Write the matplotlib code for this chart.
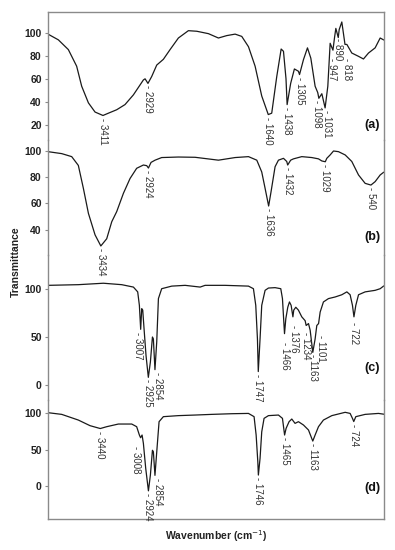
import numpy as np
import matplotlib
matplotlib.use("Agg")
import matplotlib.pyplot as plt

plt.rcParams['font.family'] = ['Liberation Sans', 'DejaVu Sans']

# ---------------- data (wavenumber cm-1, transmittance) ----------------
wn_a = [4000, 3889, 3782, 3693, 3639, 3567, 3496, 3411, 3353, 3264, 3175, 3085, 2978, 2960, 2929,
        2889, 2835, 2764, 2692, 2603, 2496, 2406, 2281, 2174, 2085, 1995, 1924, 1852, 1781, 1710,
        1640, 1603, 1549, 1502, 1477, 1450, 1438, 1400, 1360, 1317, 1305, 1263, 1220, 1184, 1138,
        1110, 1098, 1066, 1031, 1002, 977, 947, 930, 916, 890, 880, 852, 818, 798, 745, 673, 620,
        566, 495, 441, 405]
tr_a = [99, 94, 85.5, 71, 53.5, 39, 31, 28, 30, 33, 37.5, 46, 59, 60, 56,
        62, 72, 77, 85.5, 95.6, 102, 101.5, 99.4, 95.6, 97.7, 99, 97, 88, 71, 45,
        28.8, 30, 62, 86, 84, 60, 37.5, 56, 68.6, 66.6, 63.7, 76.7, 87, 78, 53.5,
        48, 43, 47, 34.6, 53.5, 91, 85, 96, 104, 96, 103, 109.6, 90, 90, 82.5, 79.6, 77.3,
        82.5, 87, 95.6, 94]

wn_b = [4000, 3853, 3746, 3675, 3621, 3567, 3496, 3434, 3371, 3317, 3264, 3192, 3121, 3050, 2978,
        2942, 2924, 2896, 2853, 2782, 2603, 2424, 2174, 1995, 1852, 1763, 1710, 1674, 1636, 1610,
        1567, 1531, 1477, 1442, 1432, 1400, 1370, 1281, 1174, 1102, 1066, 1029, 1013, 977, 941,
        888, 816, 745, 673, 602, 540, 495, 441, 405]
tr_b = [99.5, 98, 95.7, 89, 71.5, 52.4, 36, 27.5, 33, 46, 53.7, 67.7, 79, 86.8, 89.3,
        88.8, 87, 91.3, 93, 95, 95.4, 95.2, 93, 95, 95.7, 93, 84, 71.5, 58, 69,
        88, 93, 94.4, 92, 89.3, 93, 94, 95.7, 95, 94, 92.4, 91.8, 94.4, 97, 100,
        99.5, 97, 92, 81.7, 75.3, 74, 76.6, 81.7, 83.7]

wn_c = [4000, 3675, 3407, 3210, 3085, 3039, 3021, 3007, 2996, 2985, 2971, 2950, 2925, 2903, 2881,
        2871, 2854, 2835, 2817, 2782, 2674, 2531, 2370, 2317, 2103, 1852, 1799, 1774, 1756, 1747,
        1728, 1710, 1674, 1638, 1567, 1506, 1488, 1466, 1452, 1431, 1413, 1395, 1376, 1367, 1345,
        1317, 1281, 1245, 1234, 1209, 1191, 1163, 1138, 1120, 1101, 1084, 1049, 995, 923, 852, 798,
        763, 738, 722, 702, 673, 602, 495, 441, 405]
tr_c = [103.8, 104.5, 106, 104.5, 102, 97, 83, 58, 79.5, 78, 58.7, 31, 8, 24, 50,
        48, 16, 45, 90, 100.3, 103, 103.8, 102, 103.8, 103.8, 103, 100.3, 83, 48, 14,
        48, 83, 98.6, 101, 101.4, 100.3, 90, 53.5, 69, 81, 86.5, 83, 71, 78, 81,
        78, 71, 67, 62, 64, 57, 34, 48, 62, 64, 76, 86.5, 90, 91.7, 94, 97,
        94, 83, 71, 83, 94, 97, 98.6, 100.3, 103]

wn_d = [4000, 3853, 3675, 3550, 3440, 3371, 3246, 3103, 3050, 3021, 3008, 2992, 2978, 2953, 2924,
        2903, 2881, 2871, 2854, 2832, 2810, 2764, 2603, 2424, 2246, 2031, 1852, 1792, 1770, 1752,
        1746, 1728, 1710, 1685, 1638, 1531, 1488, 1465, 1449, 1417, 1388, 1353, 1317, 1263, 1209,
        1174, 1163, 1138, 1102, 1049, 959, 816, 763, 738, 724, 702, 602, 459, 405]
tr_d = [100, 97.7, 90, 82.4, 78.5, 81, 84.6, 84.6, 81, 69.7, 66, 69.7, 58.4, 24.4, -6,
        15.4, 49, 47, 15, 51.6, 87.8, 94.6, 96, 96.8, 97.7, 98.6, 99, 94.6, 69.7, 33.5,
        15.4, 38, 74, 92.3, 96, 96.8, 92.3, 69.7, 78.7, 87.8, 91.4, 85.5, 87.8, 83.3, 76.5,
        65, 61.5, 69.7, 81, 90, 96, 100.5, 99, 92.3, 88, 94.6, 97.7, 99, 98]

labels_a = [3411, 2929, 1640, 1438, 1305, 1098, 1031, 947, 890, 818]
labels_b = [3434, 2924, 1636, 1432, 1029, 540]
labels_c = [3007, 2925, 2854, 1747, 1466, 1376, 1234, 1163, 1101, 722]
labels_d = [3440, 3008, 2924, 2854, 1746, 1465, 1163, 724]

panel_names = ['(a)', '(b)', '(c)', '(d)']
yticks_list = [[20, 40, 60, 80, 100], [40, 60, 80, 100], [0, 50, 100], [0, 50, 100]]

# ---------------- layout ----------------
W, H = 395, 550
fig = plt.figure(figsize=(W / 100, H / 100), dpi=100)
left_px, right_px = 48, 384
bounds_px = [(12, 140), (140, 255), (255, 400), (400, 519)]
ylims = [(6.6, 118.3), (20.6, 108.4), (-15.6, 135.4), (-44.2, 117.2)]
panel_label_y = [125, 237, 368, 488]

series = [(wn_a, tr_a, labels_a), (wn_b, tr_b, labels_b),
          (wn_c, tr_c, labels_c), (wn_d, tr_d, labels_d)]

# label offsets in points (dx, dy) for a few labels
offsets = {
    (0, 818): (1.5, -10), (0, 947): (-1, -6), (0, 890): (0, 0),
    (0, 1098): (-1.5, -1.5), (0, 1031): (1.5, -1.5),
    (2, 3007): (-2, -2), (2, 2854): (2, -2), (2, 1466): (0, -6),
    (2, 1376): (1, -6), (2, 1234): (0, -5), (2, 1101): (1.5, -8), (2, 722): (0, -4),
    (3, 3008): (-3, -6), (3, 2854): (2, -2),
}

frame_col = '#8a8a8a'
for i, ((top, bot), (wn, tr, labs)) in enumerate(zip(bounds_px, series)):
    ax = fig.add_axes([left_px / W, 1 - bot / H, (right_px - left_px) / W, (bot - top) / H])
    ax.set_facecolor('none')
    ax.plot(wn, tr, color='#1a1a1a', lw=0.9)
    ax.set_xlim(4000, 400)
    ax.set_ylim(*ylims[i])
    ax.set_xticks([])
    ax.set_yticks(yticks_list[i])
    ax.tick_params(axis='y', direction='out', length=2.5, width=0.8, color=frame_col, pad=2,
                   labelsize=7.5)
    for t in ax.get_yticklabels():
        t.set_fontweight('bold')
        t.set_color('#222222')
    for s in ['left', 'right', 'top', 'bottom']:
        ax.spines[s].set_color(frame_col)
        ax.spines[s].set_linewidth(1.0)
    ax.spines['top'].set_visible(i == 0)
    ax.spines['bottom'].set_visible(i == 3)
    for lab in labs:
        yv = float(np.interp(lab, wn[::-1], tr[::-1]))
        dx, dy = offsets.get((i, lab), (0, -1.5))
        ax.annotate('- ' + str(lab), xy=(lab, yv), xytext=(dx, dy), textcoords='offset points',
                    rotation=270, ha='center', va='top', fontsize=7.0, color='#333333',
                    annotation_clip=False)
    ax.text(0.966, 1 - (panel_label_y[i] - top) / (bot - top),
            panel_names[i], transform=ax.transAxes, ha='center', va='center',
            fontsize=9, fontweight='bold', color='#111111')

fig.text(216 / W, 1 - 536 / H, 'Wavenumber (cm$^{-1}$)', ha='center', va='center',
         fontsize=7.5, fontweight='bold', color='#222222')
fig.text(16 / W, 1 - 262 / H, 'Transmittance', ha='center', va='center', rotation=90,
         fontsize=7.5, fontweight='bold', color='#222222')

fig.savefig('out.png', dpi=100)
